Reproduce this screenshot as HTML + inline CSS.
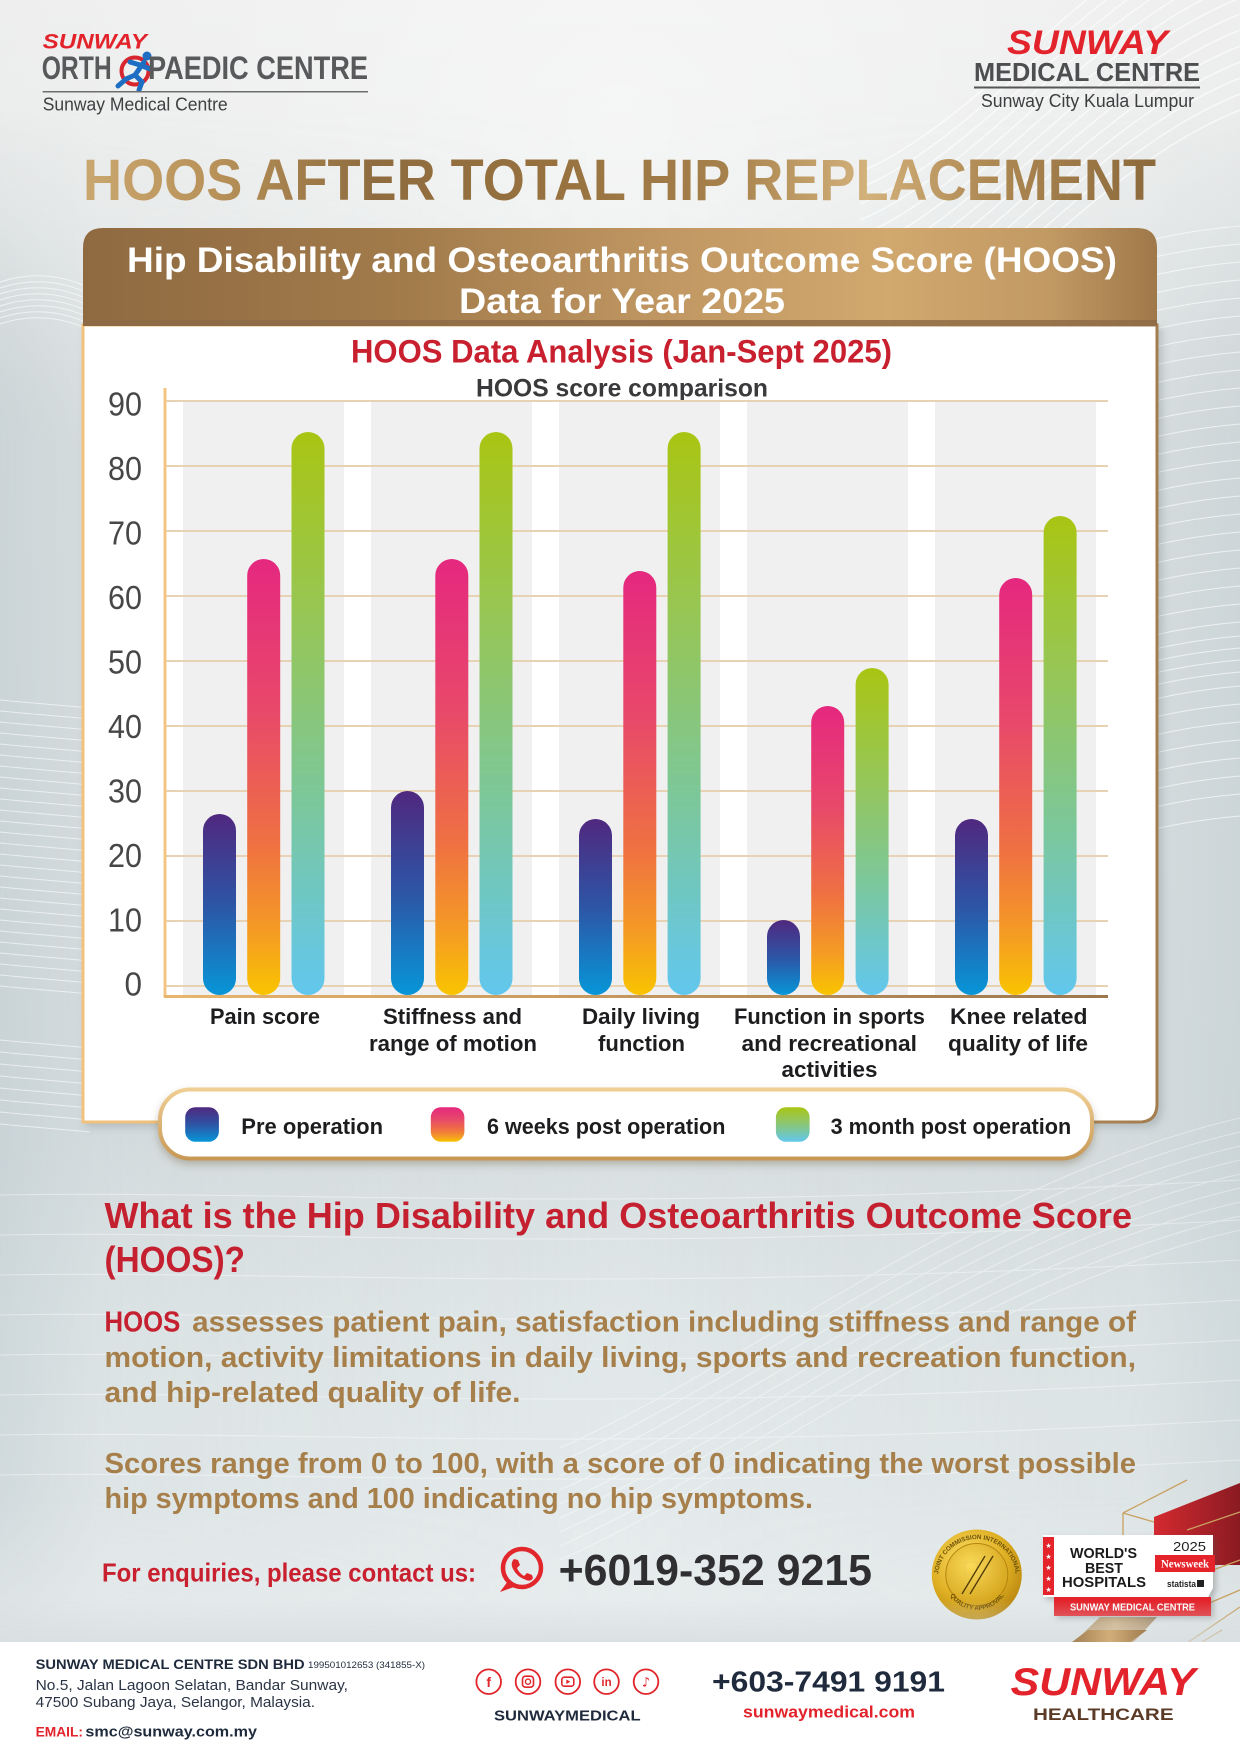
<!DOCTYPE html>
<html><head><meta charset="utf-8"><style>
html,body{margin:0;padding:0;background:#e8ecec;}
svg{display:block;}
.b{font-family:'Liberation Sans','DejaVu Sans',sans-serif;font-weight:700;}
.r{font-family:'Liberation Sans','DejaVu Sans',sans-serif;font-weight:400;}
</style></head><body>
<svg width="1240" height="1754" viewBox="0 0 1240 1754" xmlns="http://www.w3.org/2000/svg" xmlns:xlink="http://www.w3.org/1999/xlink">
<defs>
<linearGradient id="gBg" x1="0" y1="0" x2="0" y2="1754" gradientUnits="userSpaceOnUse">
<stop offset="0" stop-color="#eeeeee"/><stop offset="0.12" stop-color="#e9ebeb"/><stop offset="0.25" stop-color="#dbe1e2"/><stop offset="0.65" stop-color="#d8dfe1"/><stop offset="0.75" stop-color="#e0e7e8"/><stop offset="0.93" stop-color="#e8edee"/><stop offset="1" stop-color="#e8edee"/>
</linearGradient>
<radialGradient id="gTopHi" cx="620" cy="120" r="650" gradientUnits="userSpaceOnUse">
<stop offset="0" stop-color="#fff" stop-opacity="0.5"/><stop offset="1" stop-color="#fff" stop-opacity="0"/>
</radialGradient>
<linearGradient id="gSide" x1="0" y1="0" x2="1240" y2="0" gradientUnits="userSpaceOnUse">
<stop offset="0" stop-color="#b9c6c9" stop-opacity="0.45"/><stop offset="0.08" stop-color="#b9c6c9" stop-opacity="0.15"/><stop offset="0.5" stop-color="#b9c6c9" stop-opacity="0"/><stop offset="0.92" stop-color="#b9c6c9" stop-opacity="0.15"/><stop offset="1" stop-color="#b9c6c9" stop-opacity="0.4"/>
</linearGradient>
<linearGradient id="gFadeV" x1="0" y1="0" x2="0" y2="1754" gradientUnits="userSpaceOnUse">
<stop offset="0" stop-color="#fff" stop-opacity="0"/><stop offset="0.06" stop-color="#fff" stop-opacity="0"/><stop offset="0.22" stop-color="#fff" stop-opacity="1"/><stop offset="0.85" stop-color="#fff" stop-opacity="1"/><stop offset="0.94" stop-color="#fff" stop-opacity="0.3"/>
</linearGradient>
<mask id="mSide" maskUnits="userSpaceOnUse" x="0" y="0" width="1240" height="1754">
<rect x="0" y="0" width="1240" height="1754" fill="url(#gFadeV)"/>
</mask>
<linearGradient id="gTitle" x1="83" y1="0" x2="1156" y2="0" gradientUnits="userSpaceOnUse">
<stop offset="0" stop-color="#caa770"/><stop offset="0.12" stop-color="#b89259"/><stop offset="0.27" stop-color="#8f6c3f"/><stop offset="0.45" stop-color="#98723f"/><stop offset="0.6" stop-color="#a7814c"/><stop offset="0.73" stop-color="#d3b17b"/><stop offset="0.84" stop-color="#b08a54"/><stop offset="1" stop-color="#8b693b"/>
</linearGradient>
<linearGradient id="gBanner" x1="83" y1="0" x2="1157" y2="0" gradientUnits="userSpaceOnUse">
<stop offset="0" stop-color="#8f6a41"/><stop offset="0.3" stop-color="#a27b4b"/><stop offset="0.55" stop-color="#c19863"/><stop offset="0.75" stop-color="#d1a86e"/><stop offset="0.9" stop-color="#c19963"/><stop offset="1" stop-color="#9f784a"/>
</linearGradient>
<linearGradient id="gPanelStroke" x1="83" y1="0" x2="1157" y2="0" gradientUnits="userSpaceOnUse">
<stop offset="0" stop-color="#f2c27c"/><stop offset="0.5" stop-color="#d7aa6c"/><stop offset="1" stop-color="#a47d4f"/>
</linearGradient>
<linearGradient id="gAxis" x1="165" y1="0" x2="1108" y2="0" gradientUnits="userSpaceOnUse">
<stop offset="0" stop-color="#e9b56e"/><stop offset="1" stop-color="#9c774c"/>
</linearGradient>
<linearGradient id="gPre" x1="0" y1="0" x2="0" y2="1">
<stop offset="0" stop-color="#50287f"/><stop offset="0.5" stop-color="#2d55a5"/><stop offset="1" stop-color="#0796d8"/>
</linearGradient>
<linearGradient id="g6w" x1="0" y1="0" x2="0" y2="1">
<stop offset="0" stop-color="#e5287f"/><stop offset="0.35" stop-color="#e8496a"/><stop offset="0.65" stop-color="#ef7042"/><stop offset="0.85" stop-color="#f49a25"/><stop offset="1" stop-color="#f9c400"/>
</linearGradient>
<linearGradient id="g3m" x1="0" y1="0" x2="0" y2="1">
<stop offset="0" stop-color="#a9c513"/><stop offset="0.35" stop-color="#95c65a"/><stop offset="0.65" stop-color="#7cc79a"/><stop offset="1" stop-color="#62c7ee"/>
</linearGradient>
<linearGradient id="gPill" x1="0" y1="1088" x2="0" y2="1160" gradientUnits="userSpaceOnUse">
<stop offset="0" stop-color="#f0cf94"/><stop offset="1" stop-color="#c79855"/>
</linearGradient>
<radialGradient id="gSeal" cx="0.4" cy="0.35" r="0.7">
<stop offset="0" stop-color="#fbe06a"/><stop offset="0.6" stop-color="#e0b024"/><stop offset="1" stop-color="#b8860f"/>
</radialGradient>
<radialGradient id="gSeal2" cx="0.4" cy="0.35" r="0.7">
<stop offset="0" stop-color="#f9da58"/><stop offset="1" stop-color="#d4a21a"/>
</radialGradient>
<linearGradient id="gRed" x1="1154" y1="0" x2="1240" y2="0" gradientUnits="userSpaceOnUse">
<stop offset="0" stop-color="#d42a30"/><stop offset="1" stop-color="#8a1a22"/>
</linearGradient>
<linearGradient id="gGoldBar" x1="0" y1="0" x2="1" y2="0">
<stop offset="0" stop-color="#a07a4a"/><stop offset="0.5" stop-color="#d1ab72"/><stop offset="1" stop-color="#9c7647"/>
</linearGradient>
<linearGradient id="gFootShade" x1="0" y1="1600" x2="0" y2="1642" gradientUnits="userSpaceOnUse">
<stop offset="0" stop-color="#d5dcde" stop-opacity="0"/><stop offset="1" stop-color="#d5dcde" stop-opacity="0.7"/>
</linearGradient>
<filter id="shPanel" x="-5%" y="-5%" width="110%" height="110%"><feDropShadow dx="4" dy="4" stdDeviation="4" flood-color="#6f7a7c" flood-opacity="0.3"/></filter>
<filter id="shPill" x="-5%" y="-20%" width="110%" height="150%"><feDropShadow dx="0" dy="4" stdDeviation="4" flood-color="#6f5a3a" flood-opacity="0.35"/></filter>
<filter id="shCard" x="-10%" y="-10%" width="130%" height="130%"><feDropShadow dx="3" dy="3" stdDeviation="3" flood-color="#555" flood-opacity="0.35"/></filter>
<path id="wA" d="M 860 380 C 980 330, 1090 170, 1240 110" fill="none" stroke="#ffffff" stroke-width="1.3"/>
<path id="wR" d="M 1150 240 C 1185 232, 1215 228, 1240 226" fill="none" stroke="#ffffff" stroke-width="1.1"/>
<path id="wL" d="M 0 700 C 30 703, 60 705, 90 708" fill="none" stroke="#ffffff" stroke-width="1.1"/>
<path id="wL2" d="M 0 282 C 30 272, 60 274, 90 288" fill="none" stroke="#ffffff" stroke-width="1.1"/>
<path id="wB" d="M 560 1560 C 760 1470, 980 1290, 1240 1230" fill="none" stroke="#ffffff" stroke-width="1.1"/>
<path id="wC" d="M 0 1195 C 300 1190, 600 1215, 1240 1180" fill="none" stroke="#ffffff" stroke-width="1.1"/>
<path id="arcTop" d="M 938 1578 A 39 39 0 0 1 1016 1578" fill="none"/>
<path id="arcBot" d="M 946 1586 A 32 32 0 0 0 1008 1586" fill="none"/>
</defs>

<!-- background -->
<rect x="0" y="0" width="1240" height="1754" fill="url(#gBg)"/>
<rect x="0" y="0" width="1240" height="1754" fill="url(#gTopHi)"/>
<rect x="0" y="0" width="1240" height="1754" fill="url(#gSide)" mask="url(#mSide)"/>

<!-- waves -->
<g opacity="0.7">
<use href="#wA" y="0"/><use href="#wA" y="-16"/><use href="#wA" y="-32"/><use href="#wA" y="-48"/><use href="#wA" y="-64"/><use href="#wA" y="-80"/><use href="#wA" y="-96"/><use href="#wA" y="-112"/><use href="#wA" y="-128"/><use href="#wA" y="-144"/><use href="#wA" y="-160"/><use href="#wA" y="-176"/><use href="#wA" y="-192"/><use href="#wA" y="-208"/>
</g>
<g opacity="0.65">
<use href="#wR" y="0"/><use href="#wR" y="18"/><use href="#wR" y="36"/><use href="#wR" y="54"/><use href="#wR" y="72"/><use href="#wR" y="90"/><use href="#wR" y="108"/><use href="#wR" y="126"/><use href="#wR" y="144"/><use href="#wR" y="162"/><use href="#wR" y="180"/><use href="#wR" y="198"/><use href="#wR" y="216"/><use href="#wR" y="234"/><use href="#wR" y="252"/><use href="#wR" y="270"/><use href="#wR" y="288"/><use href="#wR" y="306"/><use href="#wR" y="324"/><use href="#wR" y="342"/><use href="#wR" y="360"/><use href="#wR" y="378"/><use href="#wR" y="396"/><use href="#wR" y="410"/><use href="#wR" y="422"/><use href="#wR" y="434"/><use href="#wR" y="446"/><use href="#wR" y="460"/><use href="#wR" y="478"/><use href="#wR" y="496"/><use href="#wR" y="514"/><use href="#wR" y="532"/><use href="#wR" y="550"/><use href="#wR" y="568"/><use href="#wR" y="590"/>
</g>
<g opacity="0.6">
<use href="#wL" y="0"/><use href="#wL" y="11"/><use href="#wL" y="22"/><use href="#wL" y="33"/><use href="#wL" y="44"/><use href="#wL" y="55"/><use href="#wL" y="66"/><use href="#wL" y="77"/><use href="#wL" y="88"/><use href="#wL" y="99"/><use href="#wL" y="110"/><use href="#wL" y="121"/><use href="#wL" y="132"/><use href="#wL" y="143"/><use href="#wL" y="154"/><use href="#wL" y="165"/><use href="#wL" y="176"/><use href="#wL" y="187"/><use href="#wL" y="198"/><use href="#wL" y="209"/><use href="#wL" y="220"/><use href="#wL" y="231"/><use href="#wL" y="242"/><use href="#wL" y="253"/><use href="#wL" y="264"/><use href="#wL" y="275"/><use href="#wL" y="286"/><use href="#wL" y="340"/><use href="#wL" y="352"/><use href="#wL" y="364"/><use href="#wL" y="376"/><use href="#wL" y="388"/><use href="#wL" y="400"/><use href="#wL" y="412"/><use href="#wL" y="424"/>
<use href="#wL2" y="0"/><use href="#wL2" y="6"/><use href="#wL2" y="12"/><use href="#wL2" y="18"/><use href="#wL2" y="24"/><use href="#wL2" y="30"/><use href="#wL2" y="36"/><use href="#wL2" y="42"/>
</g>
<g opacity="0.4">
<use href="#wB" y="0"/><use href="#wB" y="-14"/><use href="#wB" y="-28"/><use href="#wB" y="-42"/><use href="#wB" y="-56"/><use href="#wB" y="-70"/><use href="#wB" y="-84"/><use href="#wB" y="-98"/><use href="#wB" y="-112"/>
<use href="#wC" y="0"/><use href="#wC" y="40"/><use href="#wC" y="80"/><use href="#wC" y="120"/><use href="#wC" y="160"/><use href="#wC" y="200"/><use href="#wC" y="240"/><use href="#wC" y="280"/>
</g>

<!-- header left logo -->
<text x="42.7" y="48.3" class="b" font-style="italic" font-size="21" fill="#e3232b" textLength="104.3" lengthAdjust="spacingAndGlyphs">SUNWAY</text>
<text x="41.7" y="79" class="b" font-size="32" fill="#58595b" textLength="70" lengthAdjust="spacingAndGlyphs">ORTH</text>
<circle cx="135" cy="71" r="13.5" fill="none" stroke="#d7262e" stroke-width="4"/>
<g stroke="#1e6fc4" stroke-width="5" stroke-linecap="round" fill="none">
<path d="M144 62 L135 75"/><path d="M140 65 L150 69"/><path d="M140 65 L130 62"/><path d="M135 75 L142 82 L139 90"/><path d="M135 75 L126 79 L118 86"/>
</g>
<circle cx="147" cy="56" r="4.5" fill="#1e6fc4"/>
<text x="148" y="79" class="b" font-size="32" fill="#58595b" textLength="220" lengthAdjust="spacingAndGlyphs">PAEDIC CENTRE</text>
<line x1="42.7" y1="91.7" x2="368" y2="91.7" stroke="#6d6e70" stroke-width="1.5"/>
<text x="42.7" y="110.7" class="r" font-size="18.7" fill="#3f4042" textLength="185" lengthAdjust="spacingAndGlyphs">Sunway Medical Centre</text>

<!-- header right logo -->
<text x="1007" y="54" class="b" font-style="italic" font-size="34" fill="#e3232b" textLength="161" lengthAdjust="spacingAndGlyphs">SUNWAY</text>
<text x="974" y="81" class="b" font-size="26" fill="#4d4e50" textLength="226" lengthAdjust="spacingAndGlyphs">MEDICAL CENTRE</text>
<line x1="974" y1="87.5" x2="1200" y2="87.5" stroke="#555658" stroke-width="2"/>
<text x="981" y="107" class="r" font-size="18" fill="#3d3e40" textLength="213" lengthAdjust="spacingAndGlyphs">Sunway City Kuala Lumpur</text>

<!-- main title -->
<text x="83" y="200" class="b" font-size="58" fill="url(#gTitle)" textLength="1073" lengthAdjust="spacingAndGlyphs">HOOS AFTER TOTAL HIP REPLACEMENT</text>

<!-- panel -->
<path d="M83 325 H1157 V1104 Q1157 1122 1139 1122 H83 Z" fill="#ffffff" stroke="url(#gPanelStroke)" stroke-width="3" filter="url(#shPanel)"/>
<!-- banner -->
<path d="M83 326 V248 Q83 228 103 228 H1137 Q1157 228 1157 248 V326 Z" fill="url(#gBanner)"/>
<rect x="83" y="320" width="1074" height="6" fill="#8c6a45" opacity="0.8"/>
<text x="127" y="272" class="b" font-size="35" fill="#ffffff" textLength="990" lengthAdjust="spacingAndGlyphs">Hip Disability and Osteoarthritis Outcome Score (HOOS)</text>
<text x="459" y="313" class="b" font-size="35" fill="#ffffff" textLength="326" lengthAdjust="spacingAndGlyphs">Data for Year 2025</text>

<!-- chart titles -->
<text x="351" y="362.5" class="b" font-size="32" fill="#c8202f" textLength="541" lengthAdjust="spacingAndGlyphs">HOOS Data Analysis (Jan-Sept 2025)</text>
<text x="476" y="396.5" class="b" font-size="25" fill="#3a3a3c" textLength="292" lengthAdjust="spacingAndGlyphs">HOOS score comparison</text>

<!-- bands -->
<g fill="#f0f0f0">
<rect x="183" y="401" width="161" height="594"/>
<rect x="371" y="401" width="161" height="594"/>
<rect x="559" y="401" width="161" height="594"/>
<rect x="747" y="401" width="161" height="594"/>
<rect x="935" y="401" width="161" height="594"/>
</g>
<!-- gridlines -->
<g stroke="#e7d3b3" stroke-width="2">
<line x1="165" y1="401" x2="1108" y2="401"/><line x1="165" y1="466" x2="1108" y2="466"/><line x1="165" y1="531" x2="1108" y2="531"/><line x1="165" y1="596" x2="1108" y2="596"/><line x1="165" y1="661" x2="1108" y2="661"/><line x1="165" y1="726" x2="1108" y2="726"/><line x1="165" y1="791" x2="1108" y2="791"/><line x1="165" y1="856" x2="1108" y2="856"/><line x1="165" y1="921" x2="1108" y2="921"/><line x1="165" y1="986" x2="1108" y2="986"/>
</g>
<line x1="165" y1="388" x2="165" y2="997" stroke="#f2c583" stroke-width="3"/>

<!-- y labels -->
<g class="r" font-size="33" fill="#474748" text-anchor="end">
<text x="142" y="415.7" textLength="34" lengthAdjust="spacingAndGlyphs">90</text>
<text x="142" y="480.2" textLength="34" lengthAdjust="spacingAndGlyphs">80</text>
<text x="142" y="544.7" textLength="34" lengthAdjust="spacingAndGlyphs">70</text>
<text x="142" y="609.2" textLength="34" lengthAdjust="spacingAndGlyphs">60</text>
<text x="142" y="673.7" textLength="34" lengthAdjust="spacingAndGlyphs">50</text>
<text x="142" y="738.2" textLength="34" lengthAdjust="spacingAndGlyphs">40</text>
<text x="142" y="802.7" textLength="34" lengthAdjust="spacingAndGlyphs">30</text>
<text x="142" y="867.2" textLength="34" lengthAdjust="spacingAndGlyphs">20</text>
<text x="142" y="931.7" textLength="34" lengthAdjust="spacingAndGlyphs">10</text>
<text x="142" y="995.5" textLength="17.5" lengthAdjust="spacingAndGlyphs">0</text>
</g>

<!-- bars -->
<g>
<rect x="203" y="814" width="33" height="181" rx="16.5" fill="url(#gPre)"/>
<rect x="247.2" y="559" width="33" height="436" rx="16.5" fill="url(#g6w)"/>
<rect x="291.5" y="432" width="33" height="563" rx="16.5" fill="url(#g3m)"/>

<rect x="391" y="791" width="33" height="204" rx="16.5" fill="url(#gPre)"/>
<rect x="435.3" y="559" width="33" height="436" rx="16.5" fill="url(#g6w)"/>
<rect x="479.5" y="432" width="33" height="563" rx="16.5" fill="url(#g3m)"/>

<rect x="579" y="819" width="33" height="176" rx="16.5" fill="url(#gPre)"/>
<rect x="623.3" y="571" width="33" height="424" rx="16.5" fill="url(#g6w)"/>
<rect x="667.6" y="432" width="33" height="563" rx="16.5" fill="url(#g3m)"/>

<rect x="767" y="920" width="33" height="75" rx="16.5" fill="url(#gPre)"/>
<rect x="811.2" y="706" width="33" height="289" rx="16.5" fill="url(#g6w)"/>
<rect x="855.6" y="668" width="33" height="327" rx="16.5" fill="url(#g3m)"/>

<rect x="955" y="819" width="33" height="176" rx="16.5" fill="url(#gPre)"/>
<rect x="999.2" y="578" width="33" height="417" rx="16.5" fill="url(#g6w)"/>
<rect x="1043.6" y="516" width="33" height="479" rx="16.5" fill="url(#g3m)"/>
</g>
<line x1="164" y1="996.5" x2="1108" y2="996.5" stroke="url(#gAxis)" stroke-width="3"/>

<!-- category labels -->
<g class="b" font-size="22.5" fill="#1d1d1f">
<text x="210" y="1024" textLength="110" lengthAdjust="spacingAndGlyphs">Pain score</text>
<text x="383" y="1024" textLength="139" lengthAdjust="spacingAndGlyphs">Stiffness and</text>
<text x="369" y="1051" textLength="168" lengthAdjust="spacingAndGlyphs">range of motion</text>
<text x="582" y="1024" textLength="118" lengthAdjust="spacingAndGlyphs">Daily living</text>
<text x="598" y="1051" textLength="87" lengthAdjust="spacingAndGlyphs">function</text>
<text x="734" y="1024" textLength="191" lengthAdjust="spacingAndGlyphs">Function in sports</text>
<text x="741.5" y="1051" textLength="175.5" lengthAdjust="spacingAndGlyphs">and recreational</text>
<text x="781.5" y="1077" textLength="96" lengthAdjust="spacingAndGlyphs">activities</text>
<text x="950" y="1024" textLength="137.5" lengthAdjust="spacingAndGlyphs">Knee related</text>
<text x="948" y="1051" textLength="140" lengthAdjust="spacingAndGlyphs">quality of life</text>
</g>

<!-- legend -->
<rect x="160" y="1089.5" width="932" height="69" rx="30" fill="#ffffff" stroke="url(#gPill)" stroke-width="4" filter="url(#shPill)"/>
<rect x="185.2" y="1107.3" width="33.7" height="34.4" rx="10" fill="url(#gPre)"/>
<rect x="430.8" y="1107.3" width="33.6" height="34.4" rx="10" fill="url(#g6w)"/>
<rect x="775.9" y="1107.3" width="33.7" height="34.4" rx="10" fill="url(#g3m)"/>
<g class="b" font-size="22" fill="#1d1d1f">
<text x="241.3" y="1134" textLength="141.7" lengthAdjust="spacingAndGlyphs">Pre operation</text>
<text x="487" y="1134" textLength="238.4" lengthAdjust="spacingAndGlyphs">6 weeks post operation</text>
<text x="830.6" y="1134" textLength="240.6" lengthAdjust="spacingAndGlyphs">3 month post operation</text>
</g>

<!-- question section -->
<text x="104.5" y="1228" class="b" font-size="36" fill="#c5202f" textLength="1027.5" lengthAdjust="spacingAndGlyphs">What is the Hip Disability and Osteoarthritis Outcome Score</text>
<text x="104.5" y="1272" class="b" font-size="36" fill="#c5202f" textLength="140.5" lengthAdjust="spacingAndGlyphs">(HOOS)?</text>
<g class="b" font-size="28.5" fill="#a67f4b">
<text x="104.5" y="1331.7" fill="#c5202f" textLength="75.8" lengthAdjust="spacingAndGlyphs">HOOS</text>
<text x="192.2" y="1331.7" textLength="943.8" lengthAdjust="spacingAndGlyphs">assesses patient pain, satisfaction including stiffness and range of</text>
<text x="104.5" y="1367" textLength="1031.5" lengthAdjust="spacingAndGlyphs">motion, activity limitations in daily living, sports and recreation function,</text>
<text x="104.5" y="1402" textLength="416" lengthAdjust="spacingAndGlyphs">and hip-related quality of life.</text>
<text x="104.5" y="1473" textLength="1031.5" lengthAdjust="spacingAndGlyphs">Scores range from 0 to 100, with a score of 0 indicating the worst possible</text>
<text x="104.5" y="1508" textLength="708.5" lengthAdjust="spacingAndGlyphs">hip symptoms and 100 indicating no hip symptoms.</text>
</g>

<!-- decorations behind badge -->
<polygon points="1154,1517 1240,1483 1240,1565 1154,1565" fill="url(#gRed)"/>
<g stroke="#c9a060" stroke-width="1.3" fill="none">
<line x1="1123" y1="1513" x2="1187" y2="1480"/>
<line x1="1123" y1="1513" x2="1154" y2="1522"/>
<line x1="1123" y1="1513" x2="1123" y2="1536"/>
<line x1="1187" y1="1530" x2="1240" y2="1512"/>
<line x1="1213" y1="1570" x2="1240" y2="1560"/>
<line x1="1200" y1="1607" x2="1240" y2="1590"/>
<line x1="1187" y1="1643" x2="1240" y2="1607"/>
<line x1="1202" y1="1642" x2="1222" y2="1630"/>
</g>
<polygon points="1073,1643 1100,1617 1157,1617 1133,1643" fill="url(#gGoldBar)"/>

<!-- badge -->
<g filter="url(#shCard)">
<path d="M1043 1535 H1213 V1588 L1208 1597 H1043 Z" fill="#ffffff"/>
<rect x="1054" y="1597" width="157" height="19" fill="#e4232b"/>
</g>
<rect x="1043" y="1537" width="11" height="58" fill="#e4232b"/>
<g fill="#ffffff" font-size="7" class="r" text-anchor="middle">
<text x="1048.5" y="1548">★</text><text x="1048.5" y="1559">★</text><text x="1048.5" y="1570">★</text><text x="1048.5" y="1581">★</text><text x="1048.5" y="1592">★</text>
</g>
<g class="b" font-size="15" fill="#1a1a1a">
<text x="1070" y="1558" textLength="67" lengthAdjust="spacingAndGlyphs">WORLD'S</text>
<text x="1085" y="1573" textLength="38" lengthAdjust="spacingAndGlyphs">BEST</text>
<text x="1062" y="1587" textLength="84" lengthAdjust="spacingAndGlyphs">HOSPITALS</text>
</g>
<text x="1173" y="1551" class="r" font-size="13" fill="#222" textLength="33" lengthAdjust="spacingAndGlyphs">2025</text>
<rect x="1155" y="1555" width="60" height="17" fill="#e4232b"/>
<text x="1161" y="1567.5" font-family="'Liberation Serif',serif" font-weight="700" font-size="11.5" fill="#ffffff" textLength="48" lengthAdjust="spacingAndGlyphs">Newsweek</text>
<text x="1167" y="1587" class="b" font-size="9.5" fill="#222" textLength="29" lengthAdjust="spacingAndGlyphs">statista</text>
<rect x="1197" y="1580" width="7" height="7" fill="#222"/>
<text x="1070" y="1610.5" class="b" font-size="10" fill="#ffffff" textLength="125" lengthAdjust="spacingAndGlyphs">SUNWAY MEDICAL CENTRE</text>

<!-- seal -->
<circle cx="976.8" cy="1574.5" r="45" fill="url(#gSeal)"/>
<circle cx="976.8" cy="1574.5" r="31" fill="url(#gSeal2)" stroke="#b5860e" stroke-width="1"/>
<g class="b" font-size="6.3" fill="#6e520a">
<text><textPath href="#arcTop" startOffset="50%" text-anchor="middle">JOINT COMMISSION INTERNATIONAL</textPath></text>
<text><textPath href="#arcBot" startOffset="50%" text-anchor="middle">QUALITY APPROVAL</textPath></text>
</g>
<g stroke="#e9c553" stroke-width="0.8" fill="none" opacity="0.8">
<rect x="965" y="1562" width="12" height="12"/><rect x="977" y="1562" width="12" height="12"/><rect x="965" y="1574" width="12" height="12"/>
</g>
<g stroke="#4e3a08" stroke-width="1.3">
<line x1="962" y1="1594" x2="985" y2="1556"/><line x1="970" y1="1594" x2="993" y2="1556"/>
</g>

<!-- contact -->
<text x="102" y="1581.7" class="b" font-size="26" fill="#c8202f" textLength="374" lengthAdjust="spacingAndGlyphs">For enquiries, please contact us:</text>
<circle cx="522" cy="1568" r="19" fill="none" stroke="#e1262c" stroke-width="4.5"/>
<path d="M508 1581 L500 1592 L514 1587 Z" fill="#e1262c"/>
<path d="M514 1559 Q510 1563 513 1569 Q517 1577 526 1580 Q531 1582 533 1578 L532 1575 L527 1573 L524 1576 Q519 1573 517 1568 L520 1565 L518 1560 Z" fill="#e1262c"/>
<text x="558.6" y="1585" class="b" font-size="44" fill="#2f2f31" textLength="313.4" lengthAdjust="spacingAndGlyphs">+6019-352 9215</text>

<!-- footer -->
<rect x="0" y="1600" width="1240" height="42" fill="url(#gFootShade)"/>
<rect x="0" y="1642" width="1240" height="112" fill="#ffffff"/>
<polygon points="1072,1642 1088,1630 1147,1630 1131,1642" fill="url(#gGoldBar)" opacity="0.9"/>
<text x="35.6" y="1669" class="b" font-size="14" fill="#1f2b3c" textLength="269" lengthAdjust="spacingAndGlyphs">SUNWAY MEDICAL CENTRE SDN BHD</text>
<text x="308" y="1668" class="r" font-size="9" fill="#1f2b3c" textLength="117" lengthAdjust="spacingAndGlyphs">199501012653 (341855-X)</text>
<text x="35.6" y="1690" class="r" font-size="14.5" fill="#2a3444" textLength="312.4" lengthAdjust="spacingAndGlyphs">No.5, Jalan Lagoon Selatan, Bandar Sunway,</text>
<text x="35.6" y="1707" class="r" font-size="14.5" fill="#2a3444" textLength="279.4" lengthAdjust="spacingAndGlyphs">47500 Subang Jaya, Selangor, Malaysia.</text>
<text x="35.6" y="1736.7" class="b" font-size="14" fill="#e3232b" textLength="47.4" lengthAdjust="spacingAndGlyphs">EMAIL:</text>
<text x="85.4" y="1736.7" class="b" font-size="15" fill="#1f2b3c" textLength="171.6" lengthAdjust="spacingAndGlyphs">smc@sunway.com.my</text>

<g fill="#ffffff" stroke="#e0262b" stroke-width="1.8">
<circle cx="488.7" cy="1681.7" r="12.3"/><circle cx="528" cy="1681.7" r="12.3"/><circle cx="567.8" cy="1681.7" r="12.3"/><circle cx="606.5" cy="1681.7" r="12.3"/><circle cx="646" cy="1681.7" r="12.3"/>
</g>
<text x="488.7" y="1687" class="b" font-size="14" fill="#e0262b" text-anchor="middle">f</text>
<rect x="522.5" y="1676.2" width="11" height="11" rx="3" fill="none" stroke="#e0262b" stroke-width="1.6"/>
<circle cx="528" cy="1681.7" r="2.6" fill="none" stroke="#e0262b" stroke-width="1.4"/>
<rect x="561.8" y="1677.2" width="12" height="9" rx="2.5" fill="none" stroke="#e0262b" stroke-width="1.6"/>
<path d="M566.3 1679.4 L570.3 1681.7 L566.3 1684 Z" fill="#e0262b"/>
<text x="606.5" y="1686" class="b" font-size="11.5" fill="#e0262b" text-anchor="middle">in</text>
<text x="646" y="1686.5" font-family="'DejaVu Sans',sans-serif" font-size="13" fill="#e0262b" text-anchor="middle">♪</text>
<text x="494" y="1720.7" class="b" font-size="14.5" fill="#1f2b3c" textLength="146.6" lengthAdjust="spacingAndGlyphs">SUNWAYMEDICAL</text>

<text x="712" y="1691.7" class="b" font-size="29" fill="#1f2b3c" textLength="233" lengthAdjust="spacingAndGlyphs">+603-7491 9191</text>
<text x="743" y="1717.3" class="b" font-size="17" fill="#e3232b" textLength="172" lengthAdjust="spacingAndGlyphs">sunwaymedical.com</text>

<text x="1010.6" y="1695" class="b" font-style="italic" font-size="39" fill="#e3232b" textLength="185" lengthAdjust="spacingAndGlyphs">SUNWAY</text>
<text x="1033" y="1720" class="b" font-size="17" fill="#5b3a26" textLength="140.6" lengthAdjust="spacingAndGlyphs">HEALTHCARE</text>
</svg>
</body></html>
